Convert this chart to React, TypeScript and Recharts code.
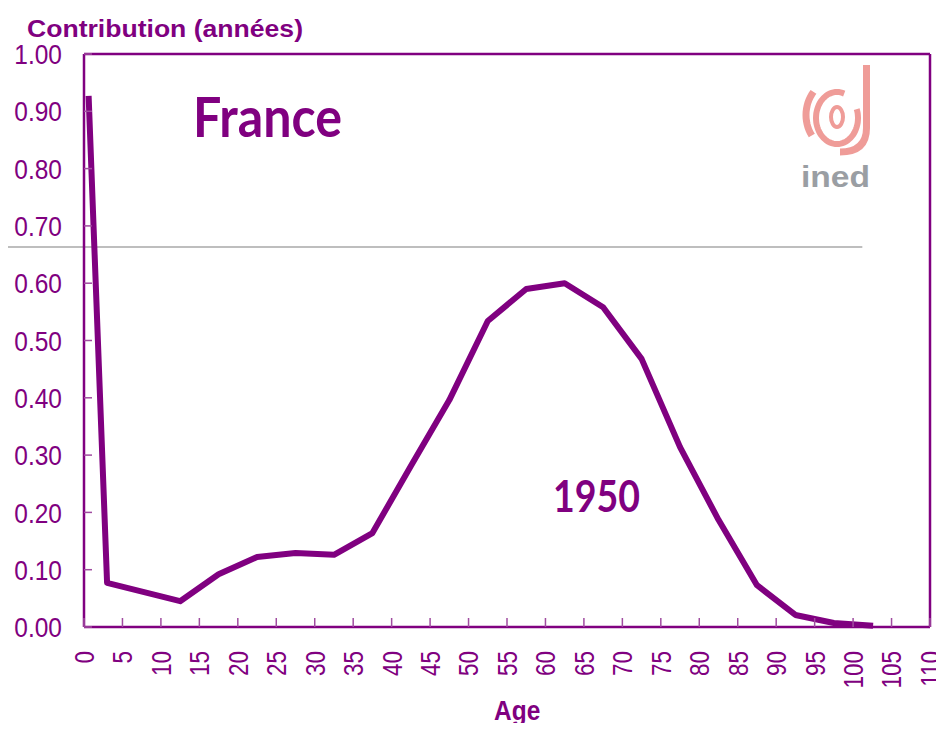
import { LineChart, Line, XAxis, YAxis, ReferenceLine } from "recharts"

// ages (midpoints of age groups) and contribution values
const ages = [0.6, 3, 12.5, 17.5, 22.5, 27.5, 32.5, 37.5, 42.5, 47.5, 52.5, 57.5, 62.5, 67.5, 72.5, 77.5, 82.5, 87.5, 92.5, 97.5, 102.6]
const contributions = [0.927, 0.077, 0.045, 0.092, 0.122, 0.129, 0.126, 0.164, 0.281, 0.396, 0.534, 0.59, 0.6, 0.558, 0.468, 0.314, 0.187, 0.073, 0.021, 0.007, 0.002]

const xTicks = [0, 5, 10, 15, 20, 25, 30, 35, 40, 45, 50, 55, 60, 65, 70, 75, 80, 85, 90, 95, 100, 105, 110]
const yTicks = [0, 0.1, 0.2, 0.3, 0.4, 0.5, 0.6, 0.7, 0.8, 0.9, 1.0]

// stray gray line in the original
const grayLineValue = 0.663
const grayLineFrom = -12
const grayLineTo = 101.2

const purple = "#800080"
const tickPurple = "#a04ca0"
const pink = "#ef9c98"

const data = ages.map((age, i) => ({ age, value: contributions[i] }))

const YTick = ({ x, y, payload }: any) => (
  <g>
    <line x1={x} x2={x + 8} y1={y} y2={y} stroke={tickPurple} strokeWidth={1.5} />
    <text
      transform={`translate(${x - 22},${y}) scale(1,1.15)`}
      textAnchor="end"
      dy="0.36em"
      fontSize={24.5}
      fill={purple}
      fontFamily="'Liberation Sans', Arial, sans-serif"
    >
      {payload.value.toFixed(2)}
    </text>
  </g>
)

const XTick = ({ x, y, payload }: any) => (
  <g>
    <line x1={x} x2={x} y1={y} y2={y - 9} stroke={tickPurple} strokeWidth={1.5} />
    <text
      transform={`translate(${x},${y + 24}) rotate(-90) scale(1,1.22)`}
      textAnchor="end"
      dy="0.36em"
      fontSize={22.5}
      fill={purple}
      fontFamily="'Liberation Sans', Arial, sans-serif"
    >
      {payload.value}
    </text>
  </g>
)

// points along an ellipse arc, for the logo
function arcPath(cx: number, cy: number, rx: number, ry: number, from: number, to: number) {
  const pts: string[] = []
  for (let a = from; a <= to; a += 5) {
    const r = (a * Math.PI) / 180
    pts.push(`${(cx + rx * Math.cos(r)).toFixed(1)},${(cy + ry * Math.sin(r)).toFixed(1)}`)
  }
  return "M" + pts.join(" L")
}

function Overlay() {
  return (
    <svg width={944} height={731} style={{ position: "absolute", left: 0, top: 0, pointerEvents: "none" }}>
      <text
        x={27}
        y={37}
        fontSize={24}
        fontWeight="bold"
        fill={purple}
        fontFamily="'Liberation Sans', Arial, sans-serif"
        textLength={276}
        lengthAdjust="spacingAndGlyphs"
      >
        Contribution (années)
      </text>
      <text
        transform="translate(494,720) scale(1,1.1)"
        fontSize={24.5}
        fontWeight="bold"
        fill={purple}
        fontFamily="'Liberation Sans', Arial, sans-serif"
      >
        Age
      </text>
      <text
        x={193}
        y={137}
        fontSize={56}
        fontWeight="bold"
        fill={purple}
        fontFamily="Lato, 'Open Sans', sans-serif"
        textLength={149}
        lengthAdjust="spacingAndGlyphs"
      >
        France
      </text>
      <text
        x={553}
        y={512}
        fontSize={44}
        fontWeight="bold"
        fill={purple}
        fontFamily="Lato, 'Open Sans', sans-serif"
        textLength={87}
        lengthAdjust="spacingAndGlyphs"
      >
        1950
      </text>
      {/* ined logo */}
      <g fill="none" stroke={pink} strokeLinecap="butt">
        <ellipse cx={837} cy={117} rx={6} ry={10} strokeWidth={4} />
        <path d={arcPath(837, 118, 21, 26, -20, 290)} strokeWidth={6} />
        <path d={arcPath(838, 115, 32, 36, 145, 220)} strokeWidth={7} />
        <path d="M866.5,65 L866.5,128 Q866.5,152 840,152" strokeWidth={7} />
      </g>
      <text
        x={801}
        y={187}
        fontSize={30}
        fontWeight="bold"
        fill="#9a9ea3"
        fontFamily="'Liberation Sans', Arial, sans-serif"
        textLength={69}
        lengthAdjust="spacingAndGlyphs"
      >
        ined
      </text>
    </svg>
  )
}

export default function App() {
  return (
    <div style={{ margin: -8, position: "relative", width: 944, height: 731 }}>
      <LineChart width={944} height={731} data={data} margin={{ top: 54, right: 14, left: 0, bottom: 0 }}>
        <XAxis
          dataKey="age"
          type="number"
          domain={[0, 110]}
          ticks={xTicks}
          interval={0}
          height={104}
          tickSize={0}
          tickMargin={0}
          tickLine={false}
          axisLine={{ stroke: purple, strokeWidth: 2.5 }}
          tick={<XTick />}
        />
        <YAxis
          type="number"
          domain={[0, 1]}
          ticks={yTicks}
          interval={0}
          width={84}
          tickSize={0}
          tickMargin={0}
          tickLine={false}
          axisLine={{ stroke: purple, strokeWidth: 2.5 }}
          tick={<YTick />}
        />
        <ReferenceLine y={1} stroke={purple} strokeWidth={2.5} />
        <ReferenceLine x={110} stroke={purple} strokeWidth={2.5} />
        <ReferenceLine
          segment={[
            { x: grayLineFrom, y: grayLineValue },
            { x: grayLineTo, y: grayLineValue },
          ]}
          ifOverflow="visible"
          stroke="#a8a8a8"
          strokeWidth={1.5}
        />
        <Line
          type="linear"
          dataKey="value"
          stroke={purple}
          strokeWidth={6}
          strokeLinejoin="round"
          dot={false}
          activeDot={false}
          isAnimationActive={false}
        />
      </LineChart>
      <Overlay />
    </div>
  )
}
